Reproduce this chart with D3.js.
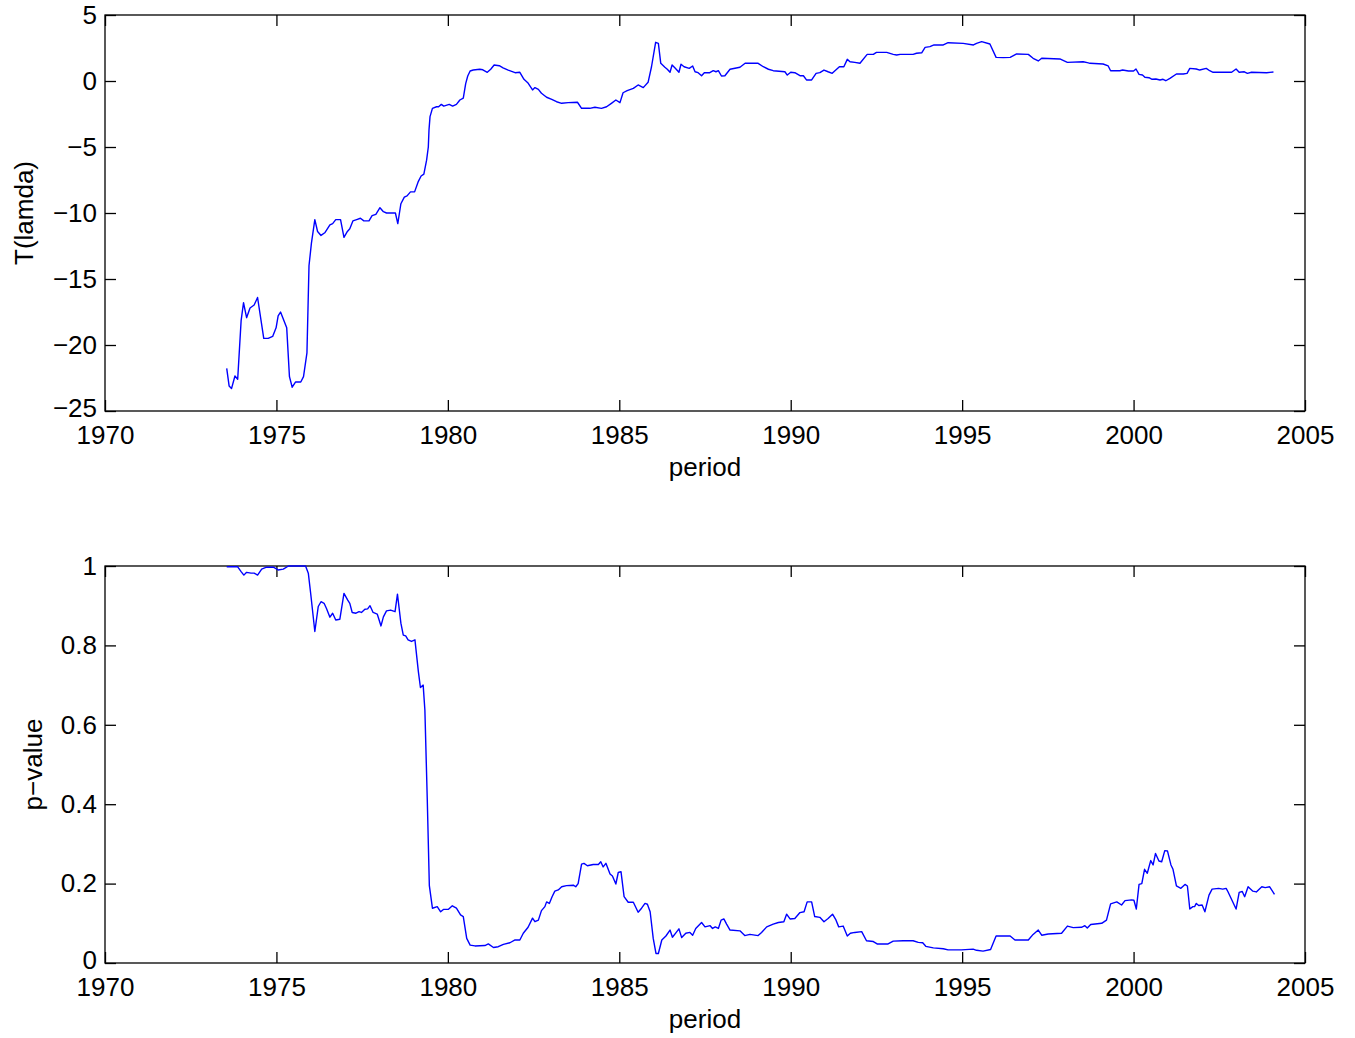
<!DOCTYPE html>
<html>
<head>
<meta charset="utf-8">
<script src="https://cdn.jsdelivr.net/npm/d3@7"></script>
<style>
  body { margin: 0; background: #fff; }
  svg { display: block; }
  text { font-family: "Liberation Sans", Arial, Helvetica, sans-serif; }
</style>
</head>
<body>
<svg id="chart" width="1355" height="1038"></svg>
<script>
// ---- Data ----
const tYears = [1973.55,1973.62,1973.69,1973.79,1973.87,1973.97,1974.04,1974.13,1974.23,1974.35,1974.45,1974.63,1974.76,1974.89,1974.99,1975.05,1975.12,1975.30,1975.38,1975.46,1975.56,1975.71,1975.79,1975.89,1975.95,1976.02,1976.12,
1976.20,1976.30,1976.41,1976.56,1976.64,1976.73,1976.87,1976.97,1977.07,1977.14,1977.23,1977.34,1977.45,1977.55,1977.70,1977.79,1977.90,1978.02,1978.12,1978.21,1978.36,1978.47,1978.54,1978.63,1978.73,1978.81,1978.91,1979.03,1979.14,1979.22,1979.30,1979.38,1979.43,1979.45,1979.48,1979.55,1979.67,1979.73,1979.81,1979.88,
1980.04,1980.14,1980.25,1980.35,1980.45,1980.52,1980.58,1980.65,1980.74,1980.93,1981.02,1981.15,1981.25,1981.35,1981.50,1981.61,1981.76,1981.96,1982.10,1982.22,1982.33,1982.47,1982.54,1982.64,1982.73,1982.88,1983.03,1983.17,1983.32,1983.51,1983.78,1983.90,1984.14,1984.29,1984.48,1984.63,1984.77,1984.90,
1985.02,1985.11,1985.23,1985.41,1985.55,1985.70,1985.84,1985.94,1986.06,1986.14,1986.21,1986.33,1986.40,1986.48,1986.54,1986.62,1986.74,1986.80,1986.89,1987.04,1987.14,1987.21,1987.30,1987.40,1987.48,1987.64,1987.74,1987.82,1987.89,1987.98,1988.08,1988.23,1988.52,1988.67,1989.05,1989.20,1989.35,1989.49,1989.83,1989.90,
1990.00,1990.12,1990.27,1990.37,1990.46,1990.61,1990.74,1990.85,1990.97,1991.09,1991.21,1991.42,1991.55,1991.65,1991.73,1991.87,1992.02,1992.23,1992.41,1992.50,1992.80,1992.99,1993.09,1993.19,1993.43,1993.57,1993.67,1993.82,1993.92,1994.06,1994.18,1994.45,1994.59,1995.03,1995.33,1995.42,1995.57,1995.81,1995.99,
1996.20,1996.40,1996.59,1996.93,1997.07,1997.22,1997.32,1997.85,1998.07,1998.53,1998.65,1998.73,1999.11,1999.26,1999.33,1999.60,1999.68,1999.85,2000.00,2000.07,2000.16,2000.26,2000.33,2000.45,2000.54,2000.65,2000.77,2000.86,2000.94,2001.06,2001.25,2001.45,2001.56,2001.64,2001.83,2001.93,2002.12,2002.22,2002.32,2002.86,2002.99,2003.08,2003.23,2003.32,2003.44,2003.88,2004.08];
const tValues = [-21.77,-23.1,-23.3,-22.35,-22.6,-18.16,-16.8,-17.93,-17.2,-16.97,-16.4,-19.5,-19.5,-19.35,-18.7,-17.8,-17.5,-18.7,-22.4,-23.2,-22.8,-22.8,-22.4,-20.6,-14.0,-12.3,-10.5,
-11.4,-11.7,-11.5,-10.9,-10.8,-10.5,-10.5,-11.84,-11.4,-11.2,-10.6,-10.5,-10.4,-10.6,-10.6,-10.2,-10.1,-9.6,-9.9,-10.0,-10.0,-10.0,-10.8,-9.3,-8.8,-8.7,-8.4,-8.4,-7.6,-7.2,-7.05,-6.0,-5.0,-3.7,-2.7,-2.07,-1.95,-1.95,-1.77,-1.9,
-1.77,-1.9,-1.77,-1.44,-1.3,-0.2,0.38,0.76,0.83,0.89,0.85,0.66,0.89,1.21,1.16,1.0,0.83,0.63,0.66,0.13,-0.13,-0.68,-0.5,-0.63,-0.93,-1.23,-1.39,-1.57,-1.69,-1.64,-1.61,-2.07,-2.07,-1.99,-2.07,-1.95,-1.69,-1.44,
-1.64,-0.89,-0.73,-0.56,-0.3,-0.5,-0.1,1.08,2.93,2.85,1.34,1.04,0.89,0.66,1.21,1.0,0.66,1.27,1.08,0.96,1.14,0.7,0.63,0.4,0.63,0.63,0.78,0.7,0.78,0.38,0.4,0.89,1.04,1.34,1.34,1.08,0.89,0.78,0.7,0.45,
0.66,0.63,0.4,0.4,0.08,0.08,0.58,0.63,0.83,0.7,0.58,1.08,1.08,1.64,1.46,1.41,1.34,2.02,2.02,2.17,2.17,2.02,1.97,2.02,2.02,2.02,2.1,2.14,2.55,2.6,2.73,2.73,2.9,2.85,2.73,2.85,2.98,2.8,1.79,
1.77,1.79,2.05,2.02,1.72,1.52,1.72,1.67,1.41,1.46,1.39,1.34,1.29,1.14,0.78,0.78,0.83,0.76,0.76,0.91,0.5,0.45,0.28,0.25,0.13,0.15,0.08,0.13,0.02,0.2,0.53,0.53,0.58,0.96,0.91,0.83,0.96,0.78,0.66,0.66,0.91,0.66,0.7,0.58,0.66,0.63,0.68];

const pYears = [1973.55,1973.87,1973.97,1974.05,1974.13,1974.26,1974.35,1974.45,1974.57,1974.71,1974.91,1975.05,1975.20,1975.35,1975.85,1975.93,1976.00,1976.12,1976.22,1976.30,1976.39,1976.46,1976.56,1976.64,1976.73,1976.85,1976.97,1977.08,1977.14,1977.21,1977.32,1977.41,1977.48,1977.58,1977.66,1977.73,1977.82,1977.94,
1978.05,1978.12,1978.21,1978.33,1978.46,1978.53,1978.63,1978.70,1978.77,1978.84,1978.94,1979.04,1979.14,1979.20,1979.28,1979.33,1979.40,1979.46,1979.55,1979.69,1979.79,1979.87,1980.01,1980.13,1980.25,1980.37,1980.45,1980.55,1980.65,1980.79,1981.08,1981.18,1981.33,1981.47,1981.62,1981.81,1981.96,
1982.10,1982.20,1982.34,1982.47,1982.54,1982.64,1982.73,1982.83,1982.88,1982.96,1983.04,1983.12,1983.22,1983.32,1983.46,1983.66,1983.73,1983.80,1983.90,1983.97,1984.07,1984.24,1984.39,1984.46,1984.53,1984.61,1984.73,1984.80,1984.90,1984.97,1985.05,1985.14,1985.26,1985.41,1985.55,1985.65,1985.75,1985.82,1985.90,1985.99,
1986.07,1986.14,1986.24,1986.36,1986.48,1986.55,1986.65,1986.74,1986.82,1986.94,1987.06,1987.14,1987.23,1987.40,1987.50,1987.65,1987.72,1987.80,1987.89,1987.97,1988.05,1988.13,1988.23,1988.52,1988.66,1988.81,1989.05,1989.15,1989.30,1989.49,1989.64,1989.80,1989.88,1989.98,
1990.12,1990.27,1990.39,1990.48,1990.61,1990.70,1990.85,1990.97,1991.09,1991.22,1991.31,1991.40,1991.53,1991.65,1991.74,1991.87,1992.07,1992.21,1992.41,1992.52,1992.84,1992.99,1993.28,1993.57,1993.72,1993.85,1993.94,1994.16,1994.45,1994.59,1994.98,1995.32,1995.42,1995.61,1995.83,1995.99,
1996.20,1996.40,1996.54,1996.93,1997.07,1997.22,1997.32,1997.51,1997.90,1998.07,1998.24,1998.48,1998.58,1998.65,1998.75,1999.07,1999.21,1999.33,1999.51,1999.65,1999.75,1999.94,2000.01,2000.08,2000.16,2000.24,2000.32,2000.40,2000.50,2000.57,2000.64,2000.74,2000.82,2000.91,2000.99,
2001.09,2001.15,2001.25,2001.38,2001.50,2001.57,2001.64,2001.73,2001.78,2001.83,2001.90,2002.00,2002.08,2002.20,2002.29,2002.48,2002.60,2002.70,2002.75,2002.99,2003.08,2003.17,2003.24,2003.34,2003.48,2003.58,2003.74,2003.84,2003.97,2004.11];
const pValues = [0.998,0.998,0.986,0.977,0.984,0.982,0.982,0.977,0.992,0.997,0.997,0.99,0.992,1.0,1.0,0.982,0.93,0.835,0.898,0.91,0.906,0.893,0.871,0.881,0.864,0.866,0.931,0.914,0.906,0.883,0.881,0.885,0.883,0.891,0.892,0.9,0.883,0.879,
0.849,0.872,0.887,0.889,0.885,0.929,0.856,0.826,0.824,0.814,0.81,0.814,0.734,0.694,0.7,0.637,0.41,0.195,0.138,0.142,0.129,0.135,0.135,0.144,0.138,0.121,0.117,0.062,0.045,0.043,0.044,0.048,0.039,0.041,0.047,0.051,0.058,
0.058,0.075,0.09,0.113,0.104,0.108,0.132,0.142,0.154,0.15,0.167,0.181,0.184,0.192,0.195,0.196,0.192,0.2,0.249,0.251,0.245,0.248,0.248,0.255,0.242,0.251,0.224,0.219,0.199,0.228,0.23,0.167,0.153,0.153,0.128,0.138,0.15,0.148,0.129,0.062,
0.024,0.024,0.058,0.068,0.083,0.065,0.076,0.086,0.064,0.075,0.077,0.07,0.087,0.102,0.091,0.094,0.087,0.091,0.087,0.108,0.111,0.098,0.083,0.081,0.069,0.072,0.069,0.077,0.091,0.098,0.102,0.104,0.123,0.111,
0.112,0.127,0.129,0.154,0.154,0.117,0.115,0.104,0.112,0.123,0.11,0.091,0.093,0.068,0.075,0.077,0.079,0.056,0.054,0.048,0.048,0.055,0.056,0.056,0.052,0.051,0.042,0.038,0.036,0.033,0.033,0.035,0.032,0.03,0.034,0.068,
0.068,0.068,0.058,0.058,0.072,0.083,0.07,0.073,0.075,0.093,0.089,0.09,0.094,0.088,0.097,0.1,0.108,0.149,0.154,0.146,0.157,0.159,0.158,0.136,0.198,0.2,0.236,0.226,0.258,0.247,0.276,0.257,0.255,0.283,0.282,
0.247,0.236,0.194,0.188,0.198,0.194,0.136,0.142,0.142,0.15,0.145,0.146,0.129,0.171,0.186,0.188,0.186,0.188,0.18,0.136,0.178,0.18,0.167,0.192,0.181,0.179,0.192,0.19,0.192,0.173];

const xTicks = [1970,1975,1980,1985,1990,1995,2000,2005];
const tTicks = [-25,-20,-15,-10,-5,0,5];
const pTicks = [0,0.2,0.4,0.6,0.8,1];

// ---- Drawing ----
const svg = d3.select("#chart");
const left = 105, right = 1305;
const FS = 26, TICK = 11;

function panel(top, bottom, yDomain, yTicks, xs, ys, yLabel, yLabelX) {
  const x = d3.scaleLinear().domain([1970, 2005]).range([left, right]);
  const y = d3.scaleLinear().domain(yDomain).range([bottom, top]);
  const g = svg.append("g");

  const fmt = d => d3.format("")(d).replace("-", "\u2212");

  // left axis with labels
  const ya = g.append("g").attr("transform", `translate(${left},0)`)
    .call(d3.axisLeft(y).tickValues(yTicks).tickSizeInner(-TICK).tickSizeOuter(0).tickPadding(8).tickFormat(fmt));
  // lowest y label sits slightly higher, as in the reference
  ya.selectAll(".tick text").filter(d => d === yDomain[0]).attr("dy", "0.2em");
  // right axis ticks
  g.append("g").attr("transform", `translate(${right},0)`)
    .call(d3.axisRight(y).tickValues(yTicks).tickSizeInner(-TICK).tickSizeOuter(0).tickFormat(""));
  // bottom axis with labels
  g.append("g").attr("transform", `translate(0,${bottom})`)
    .call(d3.axisBottom(x).tickValues(xTicks).tickSizeInner(-TICK).tickSizeOuter(0).tickPadding(15).tickFormat(d3.format("d")));
  // top axis ticks
  g.append("g").attr("transform", `translate(0,${top})`)
    .call(d3.axisTop(x).tickValues(xTicks).tickSizeInner(-TICK).tickSizeOuter(0).tickFormat(""));

  g.selectAll(".domain").remove();
  g.selectAll(".tick line").attr("stroke", "#000").attr("stroke-width", 1.3);
  g.selectAll(".tick text").attr("font-size", FS).attr("fill", "#000")
    .attr("font-family", '"Liberation Sans", Arial, Helvetica, sans-serif');

  // frame
  g.append("rect").attr("x", left).attr("y", top).attr("width", right - left).attr("height", bottom - top)
    .attr("fill", "none").attr("stroke", "#000").attr("stroke-width", 1.3);

  // data line
  const data = xs.map((d, i) => [d, ys[i]]);
  g.append("path").datum(data)
    .attr("fill", "none").attr("stroke", "#0000ff").attr("stroke-width", 1.4)
    .attr("stroke-linejoin", "round")
    .attr("d", d3.line().x(d => x(d[0])).y(d => y(d[1])));

  // x label
  g.append("text").attr("x", (left + right) / 2).attr("y", bottom + 65)
    .attr("text-anchor", "middle").attr("font-size", FS).text("period");
  // y label
  g.append("text").attr("transform", `translate(${yLabelX},${(top + bottom) / 2}) rotate(-90)`)
    .attr("text-anchor", "middle").attr("font-size", FS).text(yLabel);
}

panel(15, 411, [-25, 5], tTicks, tYears, tValues, "T(lamda)", 33);
panel(566, 963, [0, 1], pTicks, pYears, pValues, "p\u2212value", 42);
</script>
</body>
</html>
